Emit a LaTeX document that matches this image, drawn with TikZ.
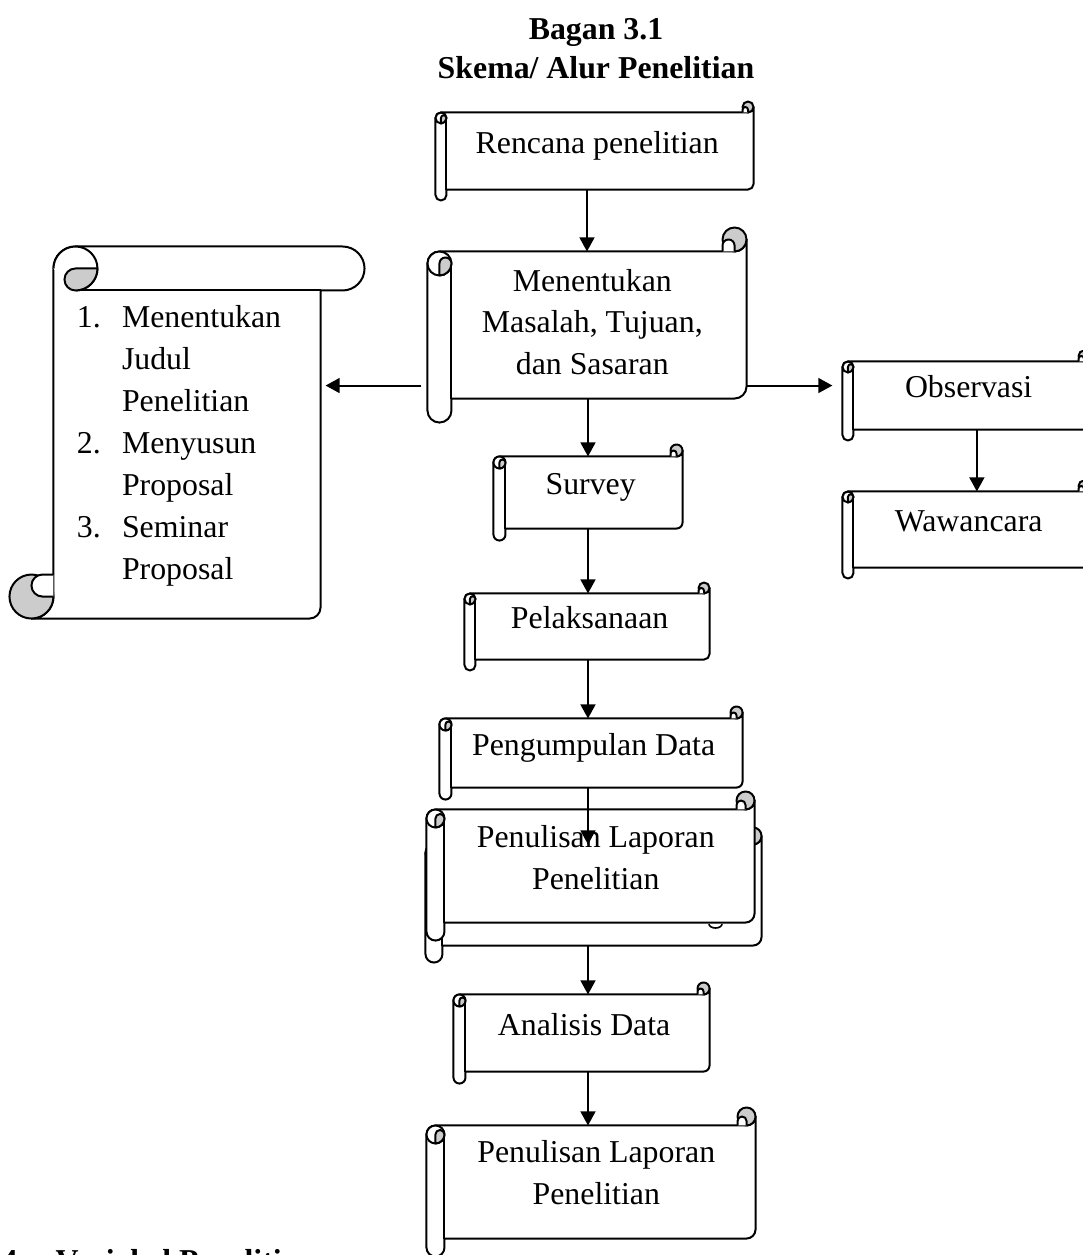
\documentclass[tikz,border=0pt]{standalone}
\usepackage{fontspec}
\setmainfont{Liberation Serif}
\usepackage{tikz}
\usetikzlibrary{arrows.meta,calc,backgrounds}

\newlength\pxu
\setlength\pxu{0.377pt}
\definecolor{roll}{gray}{0.8}

% horizontal scroll drawn round a body node: #1 node, #2 roll size
\newcommand\hscroll[2]{%
  \pgfmathsetmacro\rollc{#2}%
  \pgfmathsetmacro\rollh{#2/2}%
  \pgfmathsetmacro\rollq{#2/4}%
  \begin{scope}[on background layer]
    \coordinate (nw) at (#1.north west);
    \coordinate (ne) at (#1.north east);
    \coordinate (sw) at (#1.south west);
    \coordinate (se) at (#1.south east);
    \draw[scroll] ($(nw)+(0,\rollh)$) arc[start angle=180,end angle=270,radius=\rollh]
      -- ($(ne)+(-\rollh,0)$) arc[start angle=90,end angle=0,radius=\rollh]
      -- ($(se)+(0,-\rollh)$) arc[start angle=0,end angle=90,radius=\rollh]
      -- ($(sw)+(\rollc,0)$) -- ($(sw)+(\rollc,\rollh)$)
      arc[start angle=0,end angle=180,radius=\rollh] -- cycle;
    \draw[scroll] ($(nw)+(\rollc,\rollh)$) -- ($(sw)+(\rollc,0)$);
    \draw[scroll] ($(nw)+(\rollh,\rollh)$) circle[radius=\rollh];
    \draw[scroll, fill=roll] ($(nw)+(\rollh,\rollh)$) -- ($(nw)+(\rollh,\rollc)$)
      arc[start angle=90,end angle=0,radius=\rollh]
      arc[start angle=0,end angle=-180,radius=\rollq] -- cycle;
    \draw[scroll, fill=roll] ($(ne)+(-\rollh,-\rollh)$) circle[radius=\rollh];
    \draw[scroll] ($(ne)+(-\rollc,0)$) -- ($(ne)+(-\rollc,-\rollq)$)
      arc[start angle=180,end angle=360,radius=\rollq] -- ($(ne)+(-\rollh,0)$);
  \end{scope}
}

% vertical scroll drawn round a body node: #1 node, #2 roll size
\newcommand\vscroll[2]{%
  \pgfmathsetmacro\rollc{#2}%
  \pgfmathsetmacro\rollh{#2/2}%
  \pgfmathsetmacro\rollq{#2/4}%
  \begin{scope}[on background layer]
    \coordinate (nw) at (#1.north west);
    \coordinate (ne) at (#1.north east);
    \coordinate (sw) at (#1.south west);
    \coordinate (se) at (#1.south east);
    \draw[scroll] ($(nw)+(0,-\rollh)$) arc[start angle=180,end angle=270,radius=\rollh]
      -- ($(ne)+(\rollh,-\rollc)$) arc[start angle=-90,end angle=90,radius=\rollh]
      -- (ne) -- ($(se)+(0,-\rollq)$) arc[start angle=0,end angle=90,radius=\rollq]
      -- ($(sw)+(-\rollh,0)$) arc[start angle=90,end angle=0,radius=\rollh] -- cycle;
    \draw[scroll] ($(nw)+(\rollh,0)$) -- (ne);
    \draw[scroll] ($(nw)+(0,-\rollh)$) arc[start angle=180,end angle=450,radius=\rollh];
    \draw[scroll, fill=roll] ($(nw)+(\rollh,-\rollh)$) -- ($(nw)+(\rollc,-\rollh)$)
      arc[start angle=0,end angle=90,radius=\rollh]
      arc[start angle=90,end angle=270,radius=\rollq] -- cycle;
    \draw[scroll, fill=roll] ($(sw)+(-\rollh,-\rollh)$) circle[radius=\rollh];
    \draw[scroll] ($(sw)+(0,-\rollc)$) -- ($(sw)+(-\rollq,-\rollc)$)
      arc[start angle=270,end angle=90,radius=\rollq] -- ($(sw)+(0,-\rollh)$);
  \end{scope}
}

\begin{document}
\begin{tikzpicture}[
  x=0.377pt, y=-0.377pt,
  font=\fontsize{12}{15.8}\selectfont,
  body/.style={rectangle, inner sep=0pt},
  dims/.style 2 args={minimum width=#1*\pxu, minimum height=#2*\pxu},
  scroll/.style={draw, fill=white, line width=0.75pt, line join=round},
  lbl/.style={inner sep=0pt, text height=8.2pt, text depth=6.5pt, xshift=1pt},
  lbls/.style={inner sep=0pt, align=center, xshift=2pt},
  title/.style={inner sep=0pt, align=center, font=\bfseries\fontsize{12}{14.7}\selectfont},
  arrow/.style={->,>={Triangle[length=5.3pt,width=5.6pt]},line width=0.75pt}
]
\useasboundingbox (0,0) rectangle (1083,1255);
\clip (0,0) rectangle (1083,1255);
\begin{scope}[on background layer]
  \fill[white] (0,0) rectangle (1083,1255);
\end{scope}

% Title
\node[title] (head) at (596,49) {Bagan 3.1\\Skema/ Alur Penelitian};

% Main column
\node[body, dims={317}{76}, label={[lbl]center:{Rencana penelitian}}] (plan) at (594.5,151) {};
\hscroll{plan}{11}
\node[body, dims={318}{146}, label={[lbls, yshift=1.1pt]center:{Menentukan\\Masalah, Tujuan,\\dan Sasaran}}] (goal) at (587,325) {};
\hscroll{goal}{24}
\node[body, dims={188}{71}, label={[lbl]center:{Survey}}] (survey) at (588,492.5) {};
\hscroll{survey}{12}
\node[body, dims={244}{65}, label={[lbl]center:{Pelaksanaan}}] (run) at (587,626.5) {};
\hscroll{run}{11}
\node[body, dims={302}{68}, label={[lbl]center:{Pengumpulan Data}}] (collect) at (591,753) {};
\hscroll{collect}{12}
\node[body, dims={335}{100}] (reportB) at (593.5,895) {};
\hscroll{reportB}{17}
\draw[line width=0.6pt] (709,924) arc[start angle=180,end angle=0,x radius=6.5,y radius=4];
\node[body, dims={327}{112}, label={[lbls, yshift=3.2pt]center:{Penulisan Laporan\\Penelitian}}] (reportA) at (590.5,866) {};
\hscroll{reportA}{18}
\node[body, dims={255}{76}, label={[lbl]center:{Analisis Data}}] (analysis) at (581.5,1033) {};
\hscroll{analysis}{12}
\node[body, dims={328}{112}, label={[lbls, yshift=3.6pt]center:{Penulisan Laporan\\Penelitian}}] (report) at (591,1182) {};
\hscroll{report}{18}

% Right column
\node[body, dims={246}{67}, label={[lbl]center:{Observasi}}] (obs) at (966,395.5) {};
\hscroll{obs}{11}
\node[body, dims={246}{75}, label={[lbl]center:{Wawancara}}] (interview) at (966,529.5) {};
\hscroll{interview}{11}

% Left list
\node[body, dims={266}{327}, label={[lbls, align=left, xshift=-5pt, yshift=3.2pt]center:{%
  \makebox[17pt][l]{1.}Menentukan\\\hspace*{17pt}Judul\\\hspace*{17pt}Penelitian\\
  \makebox[17pt][l]{2.}Menyusun\\\hspace*{17pt}Proposal\\
  \makebox[17pt][l]{3.}Seminar\\\hspace*{17pt}Proposal}}] (steps) at (187,454.5) {};
\vscroll{steps}{44}

% Next heading, cut by the page edge
\node[anchor=base west, inner sep=0pt, font=\bfseries\fontsize{12}{15.8}\selectfont] (var) at (1,1271) {\makebox[20.4pt][l]{4.}Variabel Penelitian};

% Arrows
\coordinate (side) at ($(goal.south west)+(0,-13)$);
\draw[arrow] (plan.south -| goal.north) -- (goal.north);
\draw[arrow] (survey.north |- goal.south) -- (survey.north);
\draw[arrow] (survey.south) -- (survey.south |- run.north);
\draw[arrow] (survey.south |- run.south) -- (survey.south |- collect.north);
\draw[arrow] (survey.south |- collect.south) -- (survey.south |- reportB.north);
\draw[arrow] (survey.south |- reportB.south) -- (survey.south |- analysis.north);
\draw[arrow] (survey.south |- analysis.south) -- (survey.south |- report.north);
\draw[arrow, shorten <=2.3pt, shorten >=1.9pt] (side) -- (side -| steps.east);
\draw[arrow, shorten >=3.8pt] (side -| goal.east) -- (side -| obs.west);
\draw[arrow] ([xshift=4.1pt]obs.south) -- ([xshift=4.1pt]interview.north);

\end{tikzpicture}
\end{document}
